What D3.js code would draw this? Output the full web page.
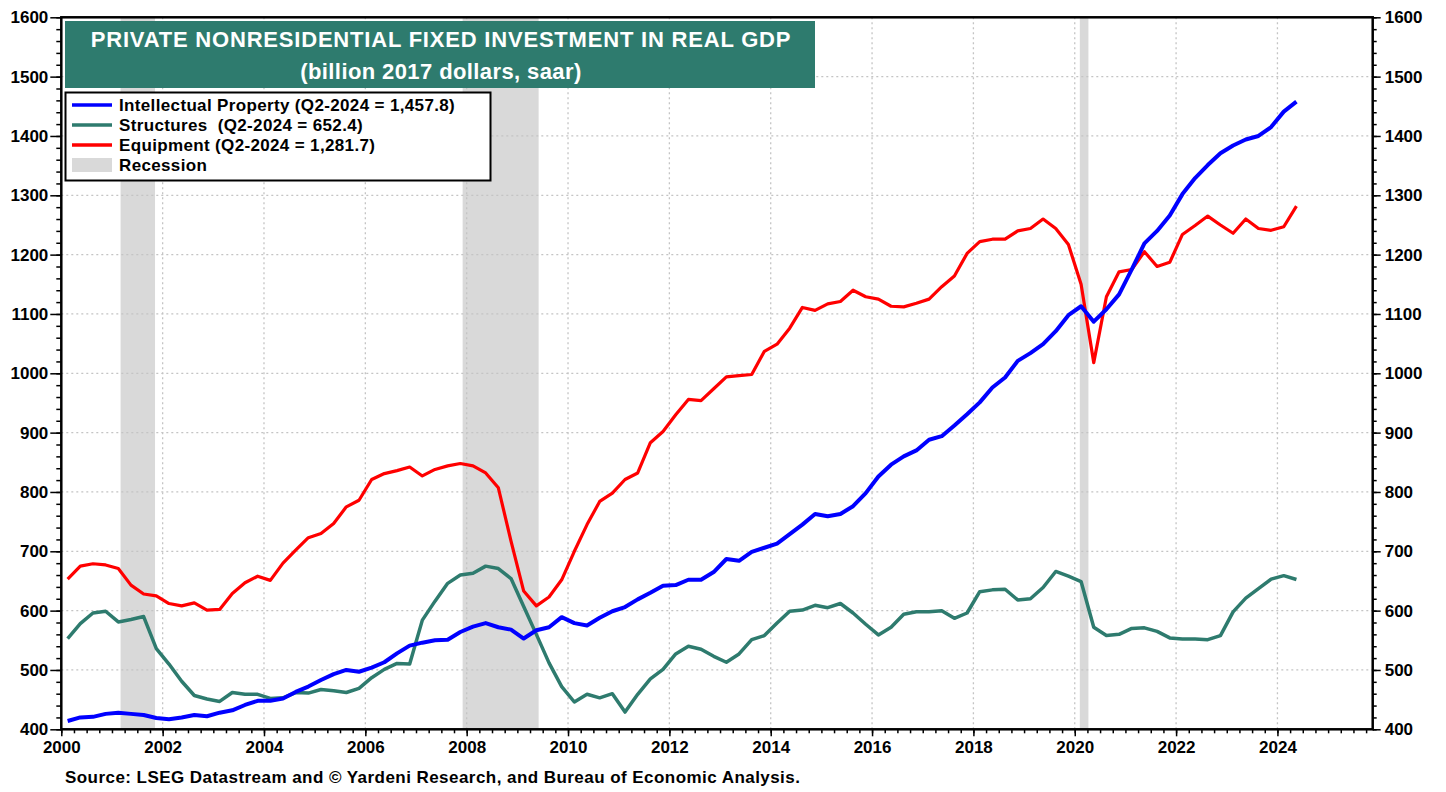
<!DOCTYPE html>
<html>
<head>
<meta charset="utf-8">
<script src="https://cdn.jsdelivr.net/npm/d3@7"></script>
<style>
  body { margin: 0; background: #fff; }
  svg { display: block; font-family: Arial, "Liberation Sans", sans-serif; }
</style>
</head>
<body>
<div id="chart"></div>
<script>
// quarterly series, Q1-2000 .. Q2-2024 (billion 2017 dollars, saar)
const firstYear = 2000;

const intellectual = [
  414, 420, 421, 426, 428, 426, 424, 419, 417, 420, 424, 422, 428, 432, 441, 448,
  448, 452, 463, 472, 483, 493, 500, 497, 504, 513, 528, 541, 546, 550, 551, 564,
  573, 579, 572, 568, 553, 567, 572, 589, 579, 575, 588, 599, 606, 619, 630, 642,
  643, 652, 652, 665, 687, 684, 699, 706, 713, 729, 745, 763, 759, 763, 776, 798,
  826, 846, 860, 870, 888, 894, 912, 931, 951, 976, 993, 1021, 1034, 1049, 1071, 1098,
  1113, 1087, 1108, 1133, 1175, 1219, 1240, 1266, 1302, 1329, 1351, 1371, 1384, 1394, 1400, 1415,
  1441, 1457.8
];

const structures = [
  553, 578, 596, 599, 581, 585, 590, 536, 510, 481, 457, 451, 447, 462, 459, 459,
  452, 453, 462, 461, 467, 465, 462, 469, 487, 501, 511, 510, 584, 616, 646, 660,
  663, 675, 671, 654, 607, 560, 512, 472, 446, 459, 453, 460, 429, 459, 485, 501,
  527, 540, 535, 523, 513, 527, 551, 558, 579, 599, 601, 609, 605, 612, 596, 577,
  559, 572, 594, 598, 598, 600, 587, 596, 632, 635, 636, 618, 620, 639, 666, 658,
  649, 572, 558, 560, 570, 571, 565, 554, 552, 552, 551, 558, 598, 621, 637, 653,
  659, 652.4
];

const equipment = [
  653, 675, 679, 677, 671, 643, 628, 625, 612, 608, 613, 601, 602, 629, 647, 658,
  651, 680, 702, 723, 730, 747, 775, 786, 821, 831, 836, 842, 827, 838, 844, 848,
  844, 832, 807, 717, 633, 608, 623, 652, 700, 745, 784, 798, 821, 832, 883, 902,
  930, 956, 954, 974, 994, 996, 998, 1037, 1049, 1076, 1111, 1106, 1117, 1121, 1140, 1129,
  1125, 1113, 1112, 1118, 1125, 1146, 1164, 1202, 1222, 1226, 1226, 1240, 1244, 1260, 1244, 1217,
  1150, 1018, 1129, 1171, 1175, 1205, 1180, 1187, 1234, 1249, 1265, 1250, 1236, 1260, 1244, 1241,
  1247, 1281.7
];

const recessions = [[2001.17, 2001.85], [2007.92, 2009.42], [2020.1, 2020.27]];

const yTicks = [400, 500, 600, 700, 800, 900, 1000, 1100, 1200, 1300, 1400, 1500, 1600];
const xLabels = [2000, 2002, 2004, 2006, 2008, 2010, 2012, 2014, 2016, 2018, 2020, 2022, 2024];

const seriesList = [
  { name: "Intellectual Property (Q2-2024 = 1,457.8)", values: intellectual, color: "#0000ff", width: 4 },
  { name: "Structures  (Q2-2024 = 652.4)", values: structures, color: "#2e7b6e", width: 3.5 },
  { name: "Equipment (Q2-2024 = 1,281.7)", values: equipment, color: "#ff0000", width: 3.2 }
];

const width = 1446, height = 792;
const margin = { top: 17.3, right: 73.3, bottom: 62.7, left: 61.3 };
const innerW = width - margin.left - margin.right;
const innerH = height - margin.top - margin.bottom;

const svg = d3.select("#chart").append("svg")
  .attr("width", width)
  .attr("height", height);

const x = d3.scaleLinear().domain([2000, 2025.88]).range([margin.left, margin.left + innerW]);
const y = d3.scaleLinear().domain([400, 1600]).range([margin.top + innerH, margin.top]);

const qx = i => x(firstYear + i * 0.25 + 0.125);

// recession bands
svg.append("g").selectAll("rect")
  .data(recessions)
  .join("rect")
  .attr("x", d => x(d[0]))
  .attr("width", d => x(d[1]) - x(d[0]))
  .attr("y", margin.top)
  .attr("height", innerH)
  .attr("fill", "#d9d9d9");

// grid
const grid = svg.append("g").attr("stroke", "#c4c4c4").attr("stroke-width", 1.3).attr("stroke-dasharray", "2,3");
grid.selectAll(".h")
  .data(yTicks.slice(1, -1))
  .join("line")
  .attr("x1", margin.left).attr("x2", margin.left + innerW)
  .attr("y1", d => y(d)).attr("y2", d => y(d));
grid.selectAll(".v")
  .data(xLabels.slice(1))
  .join("line")
  .attr("y1", margin.top).attr("y2", margin.top + innerH)
  .attr("x1", d => x(d)).attr("x2", d => x(d));

// axes
const minorY = d3.range(400, 1601, 20);
const quarterTicks = d3.range(2000, 2025.9, 0.25);

const leftAxis = d3.axisLeft(y).tickValues(yTicks).tickSize(11).tickPadding(2).tickFormat(d3.format("d"));
const rightAxis = d3.axisRight(y).tickValues(yTicks).tickSize(8).tickPadding(4).tickFormat(d3.format("d"));
const bottomAxis = d3.axisBottom(x).tickValues(xLabels).tickSize(7).tickPadding(5).tickFormat(d3.format("d"));

function styleAxis(g) {
  g.select(".domain").remove();
  g.selectAll("line").attr("stroke", "#000").attr("stroke-width", 1.5);
  g.selectAll("text").attr("fill", "#000").attr("font-weight", "bold").attr("font-size", 17);
}

svg.append("g").attr("transform", `translate(${margin.left},0)`)
  .call(d3.axisLeft(y).tickValues(minorY).tickSize(5).tickFormat(""))
  .call(styleAxis);
svg.append("g").attr("transform", `translate(${margin.left},0)`).call(leftAxis).call(styleAxis);

svg.append("g").attr("transform", `translate(${margin.left + innerW},0)`)
  .call(d3.axisRight(y).tickValues(minorY).tickSize(4).tickFormat(""))
  .call(styleAxis);
svg.append("g").attr("transform", `translate(${margin.left + innerW},0)`).call(rightAxis).call(styleAxis);

svg.append("g").attr("transform", `translate(0,${margin.top + innerH})`)
  .call(d3.axisBottom(x).tickValues(quarterTicks).tickSize(4).tickFormat(""))
  .call(styleAxis);
svg.append("g").attr("transform", `translate(0,${margin.top + innerH})`).call(bottomAxis).call(styleAxis);

// lines
const line = d3.line().x((d, i) => qx(i)).y(d => y(d));
svg.append("g").selectAll("path")
  .data([seriesList[2], seriesList[1], seriesList[0]])
  .join("path")
  .attr("d", d => line(d.values))
  .attr("fill", "none")
  .attr("stroke", d => d.color)
  .attr("stroke-width", d => d.width)
  .attr("stroke-linejoin", "round");

// frame
svg.append("rect")
  .attr("x", margin.left).attr("y", margin.top)
  .attr("width", innerW).attr("height", innerH)
  .attr("fill", "none").attr("stroke", "#000").attr("stroke-width", 2.5);

// title box
svg.append("rect")
  .attr("x", 65).attr("y", 21).attr("width", 750).attr("height", 67)
  .attr("fill", "#2e7b6e");
svg.append("text")
  .attr("x", 441).attr("y", 47)
  .attr("text-anchor", "middle").attr("fill", "#fff")
  .attr("font-weight", "bold").attr("font-size", 22).attr("letter-spacing", 0.8)
  .text("PRIVATE NONRESIDENTIAL FIXED INVESTMENT IN REAL GDP");
svg.append("text")
  .attr("x", 441).attr("y", 79)
  .attr("text-anchor", "middle").attr("fill", "#fff")
  .attr("font-weight", "bold").attr("font-size", 22).attr("letter-spacing", 0.4)
  .text("(billion 2017 dollars, saar)");

// legend
const legend = svg.append("g");
legend.append("rect")
  .attr("x", 65.5).attr("y", 92.5).attr("width", 425).attr("height", 88)
  .attr("fill", "#fff").attr("stroke", "#000").attr("stroke-width", 2);

const legendRows = seriesList.map(s => ({ label: s.name, color: s.color, type: "line" }))
  .concat([{ label: "Recession", color: "#d9d9d9", type: "rect" }]);

legendRows.forEach((r, i) => {
  const cy = 105 + i * 20;
  if (r.type === "line") {
    legend.append("line")
      .attr("x1", 72).attr("x2", 112).attr("y1", cy).attr("y2", cy)
      .attr("stroke", r.color).attr("stroke-width", 3.5);
  } else {
    legend.append("rect")
      .attr("x", 72).attr("y", cy - 7).attr("width", 40).attr("height", 14)
      .attr("fill", r.color);
  }
  legend.append("text")
    .attr("x", 119).attr("y", cy + 6)
    .style("white-space", "pre")
    .attr("font-weight", "bold").attr("font-size", 17).attr("letter-spacing", 0.35).attr("fill", "#000")
    .text(r.label);
});

// source
svg.append("text")
  .attr("x", 65).attr("y", 783)
  .attr("font-weight", "bold").attr("font-size", 17).attr("letter-spacing", 0.45).attr("fill", "#000")
  .text("Source: LSEG Datastream and © Yardeni Research, and Bureau of Economic Analysis.");
</script>
</body>
</html>
